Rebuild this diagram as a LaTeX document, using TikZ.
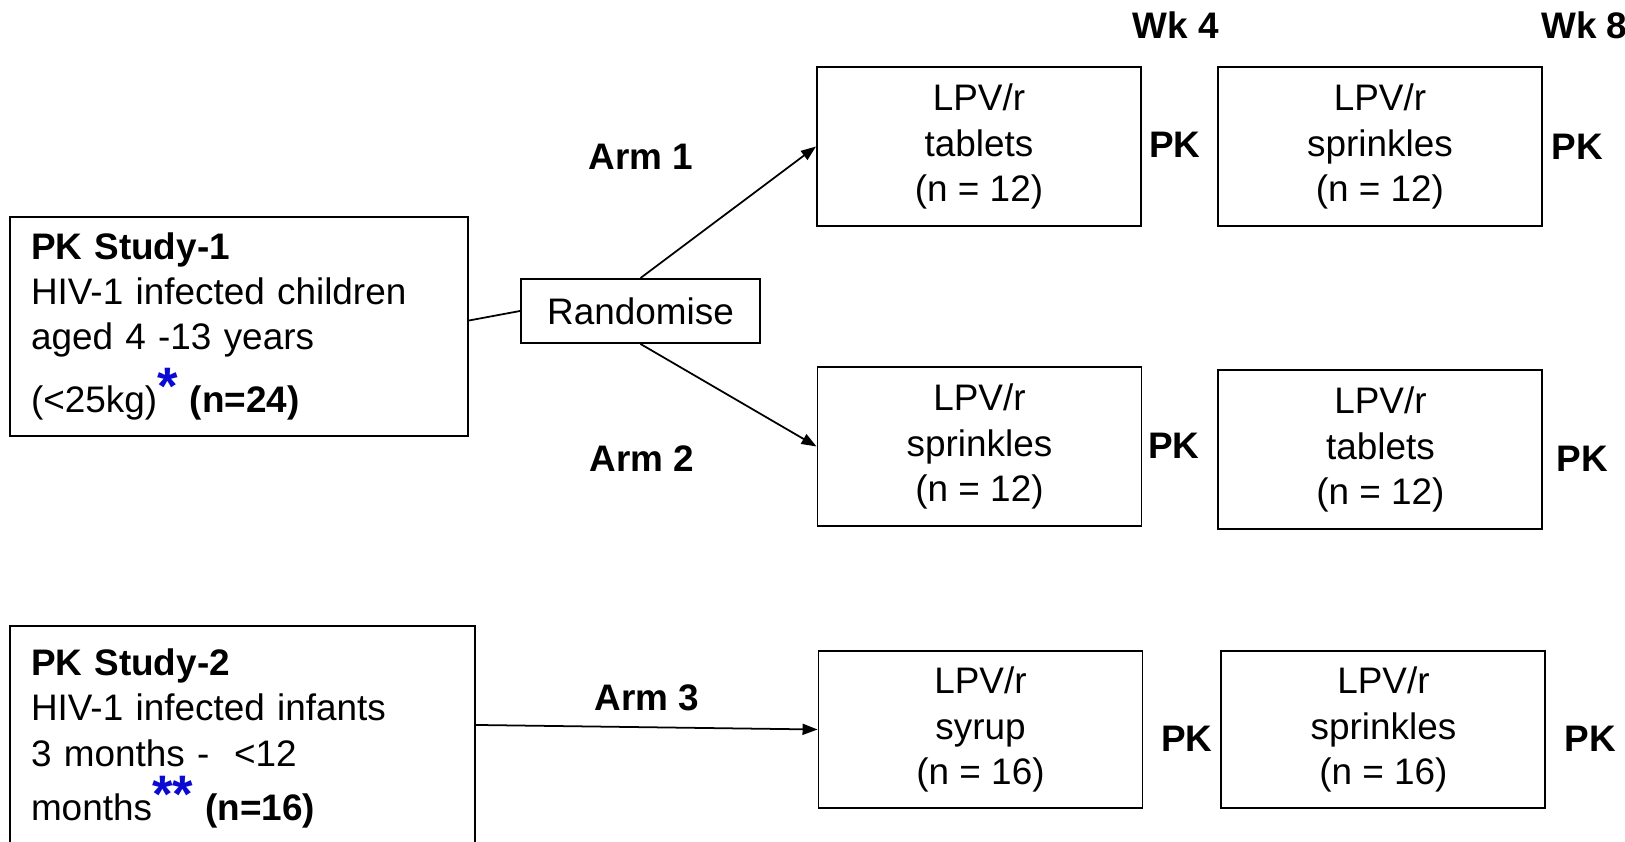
\documentclass[tikz,border=0pt]{standalone}
\usepackage{fontspec}
\setmainfont{Liberation Sans}
\usepackage{xcolor}
\usetikzlibrary{arrows.meta, positioning}

\definecolor{starblue}{RGB}{10,10,210}
\newcommand{\bluestar}[1]{\raisebox{0.22em}{\textcolor{starblue}{\fontsize{30}{30}\selectfont\bfseries #1}}}

\begin{document}
\begin{tikzpicture}[
    font=\fontsize{21}{25.8}\selectfont,
    studybox/.style={rectangle, draw=black, line width=1.1pt, inner xsep=0.42cm, align=left},
    drugbox/.style={rectangle, draw=black, line width=1.1pt, minimum width=6.48cm, minimum height=3.18cm, align=center},
    randbox/.style={rectangle, draw=black, line width=1.1pt, minimum width=4.78cm, minimum height=1.28cm},
    arrow/.style={-{Triangle[length=0.3cm, width=0.22cm]}, line width=1pt},
    link/.style={line width=1pt},
    labelstyle/.style={font=\fontsize{21}{25.8}\selectfont\bfseries, inner sep=0pt}
]
\useasboundingbox (0,0) rectangle (32.5,-16.84);

% === Left: the two studies ===
\node[studybox, text width=8.32cm, minimum height=4.38cm] (study1) at (4.78,-6.53)
    {\textbf{PK Study-1}\\HIV-1 infected children\\aged 4 -13 years\\[0.18cm](<25kg)\bluestar{*} \textbf{(n=24)}};
\node[studybox, text width=8.46cm, minimum height=4.5cm, anchor=north] (study2) at (4.85,-12.5)
    {\textbf{PK Study-2}\\HIV-1 infected infants\\3 months -~ <12\\[0.18cm]months\bluestar{**} \textbf{(n=16)}};

\node[randbox] (rand) at (12.81,-6.22) {Randomise};

% === Right: treatment periods ===
\node[drugbox] (arm1a) at (19.58,-2.93) {LPV/r\\tablets\\(n = 12)};
\node[drugbox, right=1.5cm of arm1a] (arm1b) {LPV/r\\sprinkles\\(n = 12)};
\node[drugbox] (arm2a) at (19.59,-8.93) {LPV/r\\sprinkles\\(n = 12)};
\node[drugbox, right=1.5cm of arm2a, yshift=-0.06cm] (arm2b) {LPV/r\\tablets\\(n = 12)};
\node[drugbox, minimum height=3.14cm] (arm3a) at (19.61,-14.59) {LPV/r\\syrup\\(n = 16)};
\node[drugbox, minimum height=3.14cm, right=1.54cm of arm3a] (arm3b) {LPV/r\\sprinkles\\(n = 16)};

% Week headers
\node[labelstyle] (wk4) at (23.52,-0.5) {Wk 4};
\node[labelstyle, anchor=west] (wk8) at (30.82,-0.5) {Wk 8};

% PK sampling labels
\node[labelstyle] (pk1a) at (23.5,-2.9) {PK};
\node[labelstyle] (pk1b) at (31.54,-2.94) {PK};
\node[labelstyle] (pk2a) at (23.48,-8.92) {PK};
\node[labelstyle] (pk2b) at (31.64,-9.18) {PK};
\node[labelstyle] (pk3a) at (23.74,-14.78) {PK};
\node[labelstyle] (pk3b) at (31.8,-14.78) {PK};

% Arm labels
\node[labelstyle] (arm1) at (12.82,-3.13) {Arm 1};
\node[labelstyle] (arm2) at (12.84,-9.18) {Arm 2};
\node[labelstyle] (arm3) at (12.94,-13.95) {Arm 3};

% === Connectors ===
\draw[link] ([yshift=0.12cm]study1.east) -- (rand.west);
\draw[arrow] (rand.north) -- (arm1a.west);
\draw[arrow] (rand.south) -- (arm2a.west);
\draw[arrow] ([yshift=0.27cm]study2.east) -- (arm3a.west);

\end{tikzpicture}
\end{document}
